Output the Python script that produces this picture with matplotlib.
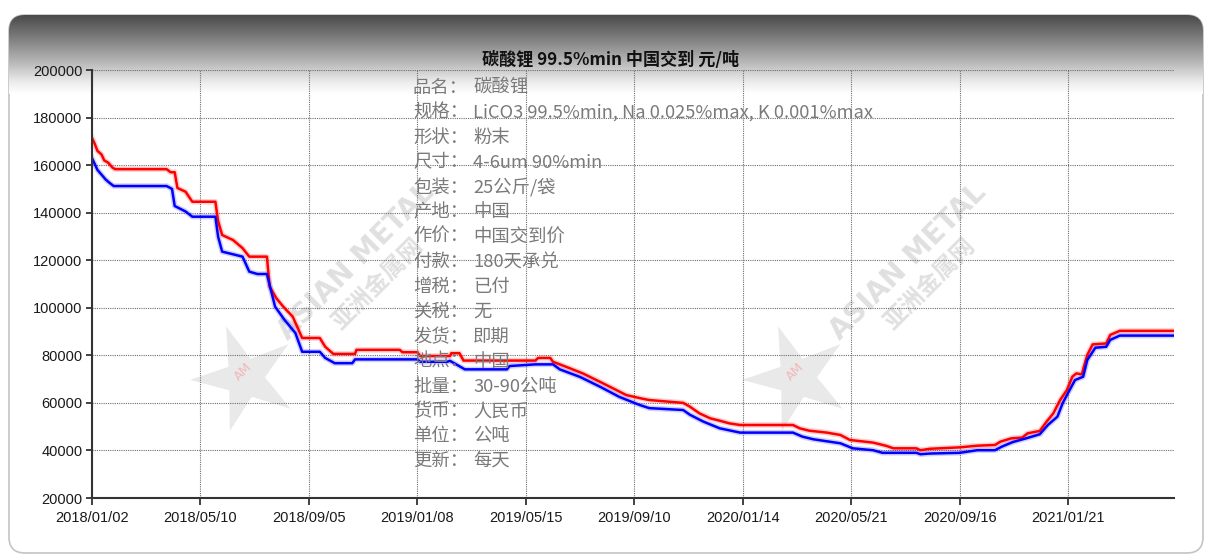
import numpy as np
import matplotlib.pyplot as plt
from matplotlib.patches import FancyBboxPatch, Polygon
from matplotlib.colors import LinearSegmentedColormap

W, H = 1205, 560

# ── data: x = trading-day index, one tick label every 80 days ───────
tick_idx = [0, 80, 160, 240, 320, 400, 480, 560, 640, 720]
tick_labels = ["2018/01/02", "2018/05/10", "2018/09/05", "2019/01/08", "2019/05/15",
               "2019/09/10", "2020/01/14", "2020/05/21", "2020/09/16", "2021/01/21"]

# upper series (red)
red_x = [0, 2, 4, 7, 9, 12, 15, 17, 55, 58, 61, 63, 69, 74, 91, 93, 96, 104, 111, 116,
         129, 131, 136, 141, 148, 155, 168, 172, 178, 194, 195, 227, 229, 240, 242, 264,
         265, 271, 274, 327, 329, 338, 340, 350, 362, 377, 394, 404, 411, 436, 441, 448,
         456, 463, 470, 478, 517, 522, 529, 542, 552, 559, 576, 586, 591, 608, 611, 618,
         640, 653, 666, 670, 678, 686, 690, 699, 704, 709, 714, 719, 723, 726, 730, 734,
         738, 748, 751, 758, 798]
red_y = [171400, 169000, 166000, 164500, 162000, 161000, 159000, 158300, 158300, 157000,
         157000, 150400, 148800, 144600, 144600, 136500, 130600, 128500, 125100, 121500,
         121500, 108900, 104000, 100500, 96300, 87300, 87300, 83600, 80600, 80600, 82300,
         82300, 81300, 81300, 79700, 79700, 80900, 80900, 77800, 77800, 78900, 78900,
         77300, 75100, 72400, 68200, 63300, 62000, 61200, 60000, 58400, 55600, 53500,
         52500, 51400, 50700, 50700, 49300, 48300, 47500, 46500, 44400, 43300, 41900,
         40900, 40900, 40100, 40700, 41300, 42000, 42300, 43700, 45100, 45400, 47200,
         48200, 52100, 55600, 61200, 65400, 71000, 72400, 72000, 80100, 84600, 85000,
         88600, 90300, 90300]

# lower series (blue)
blue_x = [0, 2, 4, 7, 10, 13, 16, 55, 59, 61, 69, 74, 91, 93, 96, 104, 111, 116, 122,
          129, 135, 142, 150, 155, 168, 172, 179, 192, 194, 240, 242, 262, 264, 275, 306,
          308, 327, 340, 345, 360, 375, 389, 404, 411, 436, 441, 451, 463, 478, 517, 524,
          532, 552, 561, 576, 583, 608, 611, 618, 640, 653, 666, 671, 679, 689, 699, 705,
          712, 716, 721, 725, 731, 734, 740, 748, 751, 758, 798]
blue_y = [162900, 160500, 158000, 156000, 154000, 152500, 151200, 151200, 150000, 142800,
          140500, 138300, 138300, 129900, 123600, 122500, 121500, 115200, 114200, 114200,
          100500, 94900, 89400, 81500, 81500, 78900, 76700, 76700, 78300, 78300, 77300,
          77300, 77700, 74100, 74100, 75500, 76200, 76200, 74100, 70900, 66700, 62500,
          59100, 57800, 57000, 55000, 52100, 49300, 47500, 47500, 45800, 44700, 43000,
          40900, 40100, 39000, 39000, 38400, 38700, 39000, 40100, 40100, 41600, 43500,
          45100, 46800, 50700, 54200, 60000, 65400, 69600, 71000, 78000, 83200, 83600,
          86500, 88300, 88300]

title = "碳酸锂 99.5%min 中国交到 元/吨"
info_keys = ["品名", "规格", "形状", "尺寸", "包装", "产地", "作价", "付款",
             "增税", "关税", "发货", "地点", "批量", "货币", "单位", "更新"]
info_vals = ["碳酸锂", "LiCO3 99.5%min, Na 0.025%max, K 0.001%max", "粉末",
             "4-6um 90%min", "25公斤/袋", "中国", "中国交到价", "180天承兑", "已付",
             "无", "即期", "中国", "30-90公吨", "人民币", "公吨", "每天"]

cjk = ["Noto Sans CJK SC", "DejaVu Sans"]

fig = plt.figure(figsize=(W / 100, H / 100), dpi=100)

# ── background card with dark header gradient ───────────────────────
bg = fig.add_axes([0, 0, 1, 1], zorder=0)
card = FancyBboxPatch((9, 15), 1194, 538, boxstyle="round,pad=0,rounding_size=16",
                      fc="white", ec="#c4c4c4", lw=1.2, zorder=1)
bg.add_patch(card)
cmap = LinearSegmentedColormap.from_list(
    "hdr", [(0, "#4a4a4a"), (0.25, "#767676"), (0.6, "#b8b8b8"), (0.85, "#ececec"), (1, "#ffffff")])
grad = np.linspace(0, 1, 256).reshape(-1, 1)
img = bg.imshow(grad, cmap=cmap, extent=(9, 1203, 94, 15), aspect="auto", zorder=2)
img.set_clip_path(card)
bg.set_xlim(0, W)
bg.set_ylim(H, 0)
bg.axis("off")


# watermarks
def star(cx, cy, r_out, r_in, rot):
    ang = np.deg2rad(rot) + np.arange(10) * np.pi / 5
    rr = np.where(np.arange(10) % 2 == 0, r_out, r_in)
    return np.column_stack([cx + rr * np.sin(ang), cy - rr * np.cos(ang)])


for wx in [0, 552]:
    bg.add_patch(Polygon(star(245 + wx, 378, 55, 20, -20), closed=True,
                         fc="#e6e6e6", ec="none", alpha=0.85, zorder=3))
    bg.text(243 + wx, 372, "AM", color="#f2b8b8", fontsize=9, rotation=45,
            ha="center", va="center", family="DejaVu Sans", zorder=4)
    bg.text(356 + wx, 262, "ASIAN METAL", color="#e0e0e0", fontsize=20, fontweight="bold",
            rotation=45, ha="center", va="center", family="DejaVu Sans", zorder=4)
    bg.text(378 + wx, 284, "亚洲金属网", color="#e0e0e0", fontsize=17, fontweight="bold",
            rotation=45, ha="center", va="center", family=cjk, zorder=4)

# ── main chart ──────────────────────────────────────────────────────
ax = fig.add_axes([92 / W, 1 - 498 / H, (1174 - 92) / W, (498 - 70) / H], zorder=1)
ax.patch.set_alpha(0)

ax.plot(red_x, red_y, color="#ff0000", lw=4, alpha=0.18)
ax.plot(blue_x, blue_y, color="#0000ff", lw=4, alpha=0.18)
ax.plot(red_x, red_y, color="#ff0000", lw=1.8)
ax.plot(blue_x, blue_y, color="#0000ff", lw=1.8)

ax.set_xlim(0, 798)
ax.set_ylim(20000, 200000)
ax.set_yticks(range(20000, 200001, 20000))
ax.set_xticks(tick_idx, tick_labels)
ax.grid(True, color="#6e6e6e", ls=(0, (1, 1)), lw=0.8)
for s in ["top", "right"]:
    ax.spines[s].set_visible(False)
for s in ["left", "bottom"]:
    ax.spines[s].set_color("#333333")
    ax.spines[s].set_linewidth(1.5)
ax.tick_params(axis="y", length=4, width=1.3, pad=3, color="#333333")
ax.tick_params(axis="x", length=5, width=1.3, pad=4, color="#333333")
for lab in ax.get_xticklabels() + ax.get_yticklabels():
    lab.set_family("Liberation Sans")
    lab.set_fontsize(10.5)
    lab.set_color("#1a1a1a")

fig.text(611 / W, 1 - 60 / H, title, ha="center", va="center", fontsize=12.3,
         fontweight="bold", family=cjk, color="#111111", zorder=5)

for i, (k, v) in enumerate(zip(info_keys, info_vals)):
    yy = 1 - (88 + i * 24.87) / H
    fig.text(413 / W, yy, k + "：", ha="left", va="center", fontsize=13.2,
             family=cjk, color="#7a7a7a", zorder=5)
    fig.text(473 / W, yy, v, ha="left", va="center", fontsize=13.2,
             family=cjk, color="#7a7a7a", zorder=5)

fig.savefig("out.png", dpi=100)
